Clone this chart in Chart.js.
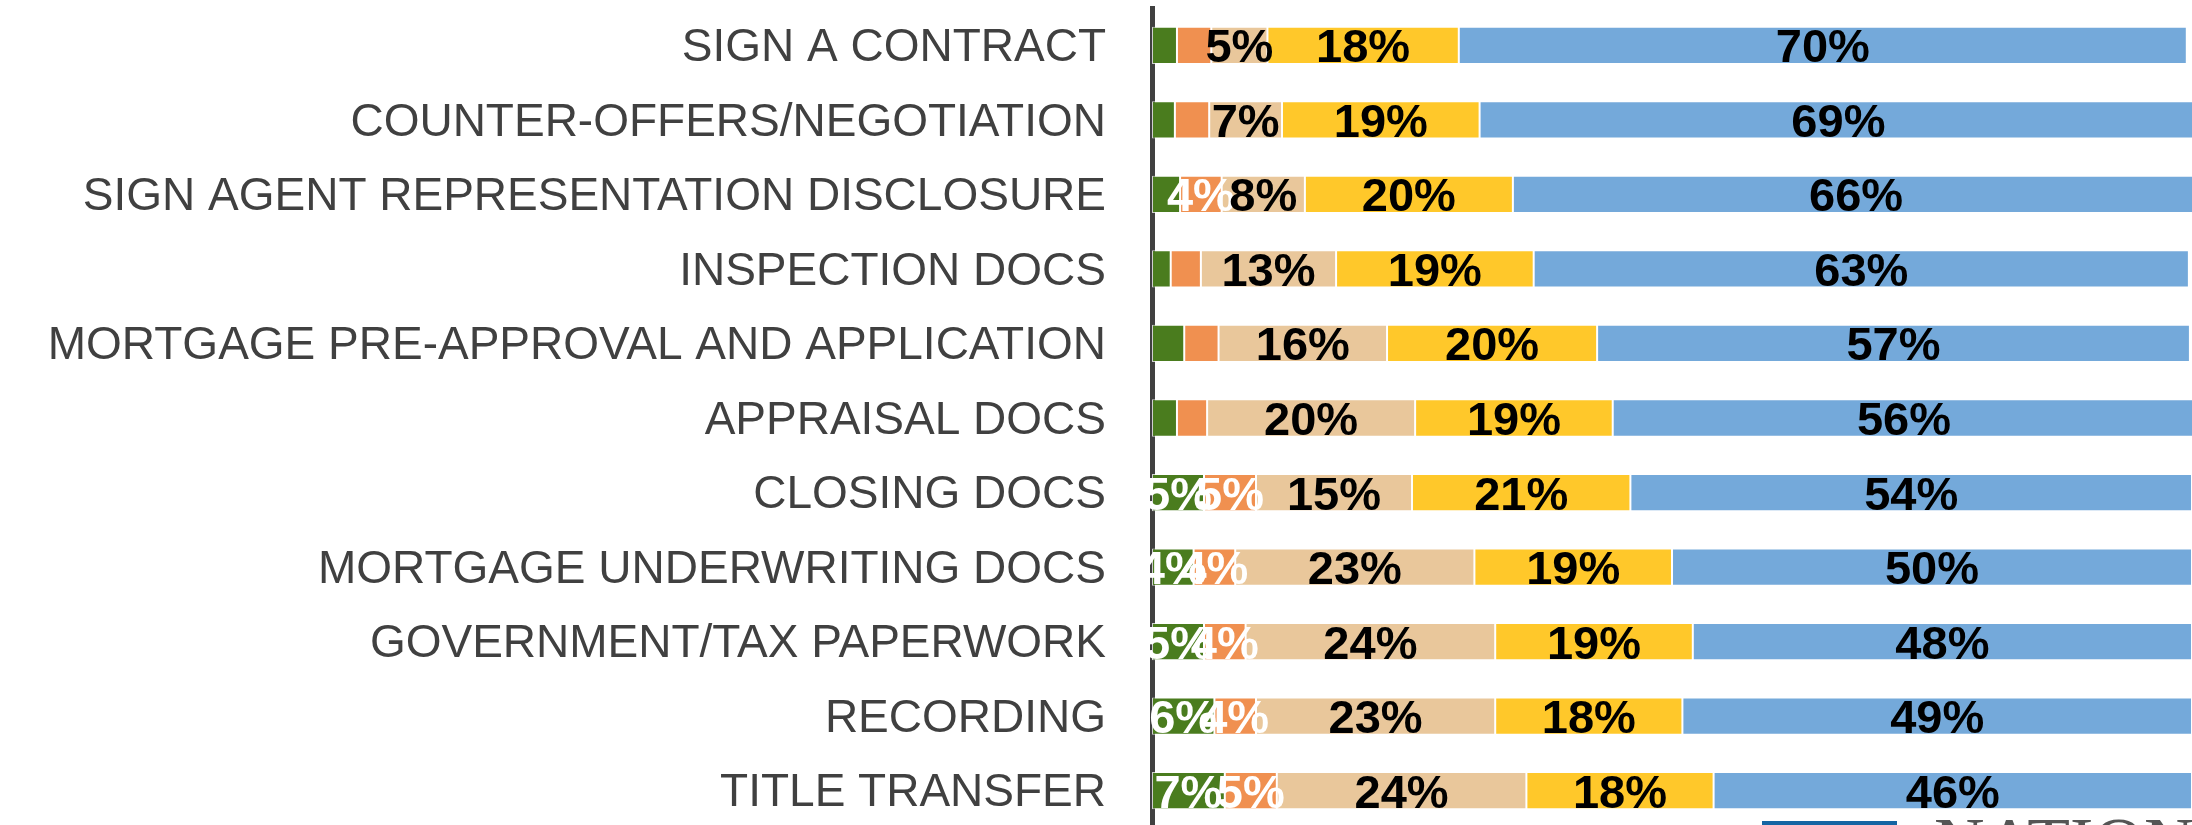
<!DOCTYPE html>
<html>
<head>
<meta charset="utf-8">
<script src="https://cdn.jsdelivr.net/npm/chart.js@4.4.1/dist/chart.umd.min.js"></script>
<style>
    html, body { margin: 0; padding: 0; background: #fff; overflow: hidden; }
    #wrap { width: 2192px; height: 828px; position: relative; }
</style>
</head>
<body>
<div id="wrap"><canvas id="docsChart"></canvas></div>
<script>
// Categories (top to bottom)
const categories = [
    'SIGN A CONTRACT',
    'COUNTER-OFFERS/NEGOTIATION',
    'SIGN AGENT REPRESENTATION DISCLOSURE',
    'INSPECTION DOCS',
    'MORTGAGE PRE-APPROVAL AND APPLICATION',
    'APPRAISAL DOCS',
    'CLOSING DOCS',
    'MORTGAGE UNDERWRITING DOCS',
    'GOVERNMENT/TAX PAPERWORK',
    'RECORDING',
    'TITLE TRANSFER'
];

// Series values (%)
const greenVals  = [2.4, 2.2, 2.7, 1.8, 3.1, 2.4, 5, 4, 5, 6, 7];
const orangeVals = [3.3, 3.3, 4, 2.9, 3.3, 2.9, 5, 4, 4, 4, 5];
const beigeVals  = [5.4, 7, 8, 13, 16.2, 20, 15, 23, 24, 23, 24];
const yellowVals = [18.4, 19, 20, 19, 20.2, 19, 21, 19, 19, 18, 18];
const blueVals   = [70, 69, 66, 63, 57, 56, 54, 50, 48, 49, 46];

const seriesColors = ['#4a7c1e', '#f09050', '#e9c79b', '#ffc82a', '#74a9da'];
const labelColors  = ['#ffffff', '#ffffff', '#000000', '#000000', '#000000'];

// Draw value labels on each segment (only where the original shows them)
const segmentLabels = {
    id: 'segmentLabels',
    afterDatasetsDraw(chart) {
        const ctx = chart.ctx;
        ctx.save();
        ctx.font = 'bold 47px "Liberation Sans", Arial, sans-serif';
        ctx.textAlign = 'center';
        ctx.textBaseline = 'alphabetic';
        chart.data.datasets.forEach((ds, di) => {
            const meta = chart.getDatasetMeta(di);
            meta.data.forEach((bar, i) => {
                const v = ds.data[i];
                if (v < 4) return;
                const cx = (bar.x + bar.base) / 2;
                ctx.fillStyle = labelColors[di];
                ctx.fillText(Math.round(v) + '%', cx, bar.y + 17);
            });
        });
        ctx.restore();
    }
};

// Cut-off logo at the bottom right
const logoStrip = {
    id: 'logoStrip',
    afterDraw(chart) {
        const ctx = chart.ctx;
        ctx.save();
        ctx.fillStyle = '#1565a3';
        ctx.fillRect(1762, 821, 135, 10);
        ctx.fillStyle = '#555555';
        ctx.font = '70px "Liberation Serif", "Times New Roman", serif';
        ctx.textAlign = 'left';
        ctx.textBaseline = 'alphabetic';
        ctx.fillText('NATIONAL', 1934, 866);
        ctx.restore();
    }
};

function makeDataset(label, values, idx) {
    return {
        label: label,
        data: values,
        backgroundColor: seriesColors[idx],
        borderColor: 'rgba(255,255,255,0.75)',
        borderWidth: 1,
        borderSkipped: false,
        categoryPercentage: 1.0,
        barPercentage: 0.5
    };
}

const ctx = document.getElementById('docsChart').getContext('2d');
const docsChart = new Chart(ctx, {
    type: 'bar',
    data: {
        labels: categories,
        datasets: [
            makeDataset('Green', greenVals, 0),
            makeDataset('Orange', orangeVals, 1),
            makeDataset('Beige', beigeVals, 2),
            makeDataset('Yellow', yellowVals, 3),
            makeDataset('Blue', blueVals, 4)
        ]
    },
    options: {
        indexAxis: 'y',
        responsive: true,
        maintainAspectRatio: false,
        animation: false,
        layout: { padding: { top: 8, right: 0, bottom: 0, left: 0 } },
        scales: {
            x: {
                stacked: true,
                min: 0,
                max: 100,
                display: false
            },
            y: {
                stacked: true,
                grid: { display: false, drawTicks: false },
                border: { display: true, color: '#404040', width: 5 },
                ticks: {
                    color: '#404040',
                    padding: 46,
                    labelOffset: 3,
                    font: { family: '"Liberation Sans", Arial, sans-serif', size: 46 }
                },
                afterFit(scale) {
                    scale.width = 1152;
                    scale.paddingTop = 0;
                    scale.paddingBottom = 0;
                }
            }
        },
        plugins: {
            legend: { display: false },
            tooltip: { enabled: false }
        }
    },
    plugins: [segmentLabels, logoStrip]
});
</script>
</body>
</html>
